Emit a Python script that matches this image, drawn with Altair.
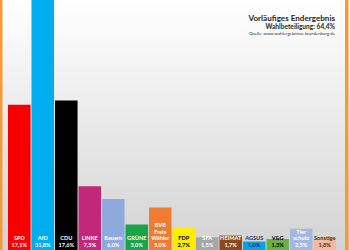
import altair as alt
import pandas as pd

# --- data ---
parties = ["SPD", "AfD", "CDU", "LINKE", "Bauern", "GRÜNE", "BVB\nFreie\nWähler",
           "FDP", "SFA", "HEIMAT", "AGSUS", "V&G", "Tier\nschutz", "Sonstige"]
values = [17.1, 31.8, 17.6, 7.5, 6.0, 3.0, 5.0, 2.7, 1.5, 1.7, 1.0, 1.3, 2.5, 1.3]
value_labels = ["17,1%", "31,8%", "17,6%", "7,5%", "6,0%", "3,0%", "5,0%",
                "2,7%", "1,5%", "1,7%", "1,0%", "1,3%", "2,5%", "1,8%"]
title_text = "Vorläufiges Endergebnis"
turnout_text = "Wahlbeteiligung:  64,4%"
source_text = "Quelle: www.wahlergebnisse.brandenburg.de"

# --- styles ---
bar_colors = ["#F80000", "#00AEEF", "#000000", "#C2287A", "#8EA9DB", "#19A449",
              "#F07C32", "#FFEC00", "#A6A6A6", "#8A4A1E", "#0AA2E2", "#6DAF47",
              "#A4B7E0", "#F5B8A2"]
text_colors = ["#FFFFFF", "#FFFFFF", "#FFFFFF", "#FFFFFF", "#FFFFFF", "#FFFFFF",
               "#FFFFFF", "#000000", "#FFFFFF", "#FFFFFF", "#1F2E5A", "#000000",
               "#FFFFFF", "#5A1E10"]

W, H = 350, 250
keys = [f"k{i:02d}" for i in range(len(parties))]
df = pd.DataFrame({
    "key": keys,
    "value": values,
    "name": parties,
    "vlabel": value_labels,
    "tc": text_colors,
})
one = pd.DataFrame({"a": [0]})

xscale = alt.Scale(domain=keys, range=[8, 336], paddingInner=0.04, paddingOuter=0)
yscale = alt.Scale(domain=[0, 29.45], range=[H, 0])

bg = alt.Chart(one).mark_rect(
    color=alt.Gradient(gradient="linear",
                       stops=[alt.GradientStop(color="#FFFFFF", offset=0),
                              alt.GradientStop(color="#D3D3D3", offset=1)],
                       x1=0, x2=0, y1=0, y2=1)
).encode(x=alt.value(0), x2=alt.value(W), y=alt.value(0), y2=alt.value(H))

left_strip = alt.Chart(one).mark_rect(color="#F29B38").encode(
    x=alt.value(0), x2=alt.value(2.5), y=alt.value(0), y2=alt.value(H))
right_strip = alt.Chart(one).mark_rect(color="#F29B38").encode(
    x=alt.value(345), x2=alt.value(348.5), y=alt.value(0), y2=alt.value(H))

bars = alt.Chart(df).mark_bar(clip=True).encode(
    x=alt.X("key:N", sort=None, axis=None, scale=xscale),
    y=alt.Y("value:Q", axis=None, scale=yscale),
    color=alt.Color("key:N", scale=alt.Scale(domain=keys, range=bar_colors), legend=None),
)

value_text = alt.Chart(df).mark_text(
    baseline="middle", fontSize=5.6, fontWeight="bold", font="Lato"
).encode(
    x=alt.X("key:N", sort=None, axis=None, scale=xscale, bandPosition=0.5),
    y=alt.value(244.5),
    text="vlabel:N",
    color=alt.Color("tc:N", scale=None),
)

name_text = alt.Chart(df).transform_calculate(
    ypos="238 - (length(split(datum.name, '\\n')) - 1) * 6.4"
).mark_text(
    baseline="middle", lineBreak="\n", lineHeight=6.4, fontSize=5.6,
    fontWeight="bold", font="Lato"
).encode(
    x=alt.X("key:N", sort=None, axis=None, scale=xscale, bandPosition=0.5),
    y=alt.Y("ypos:Q", scale=None, axis=None),
    text="name:N",
    color=alt.Color("tc:N", scale=None),
)

t1 = alt.Chart(pd.DataFrame({"t": [title_text]})).mark_text(
    align="right", baseline="alphabetic", fontSize=8.1, fontWeight="bold",
    font="Lato", color="#262626").encode(x=alt.value(335), y=alt.value(20.5), text="t:N")
t2 = alt.Chart(pd.DataFrame({"t": [turnout_text]})).mark_text(
    align="right", baseline="alphabetic", fontSize=6.6, fontWeight="bold",
    font="Lato", color="#262626").encode(x=alt.value(335), y=alt.value(28.5), text="t:N")
t3 = alt.Chart(pd.DataFrame({"t": [source_text]})).mark_text(
    align="right", baseline="alphabetic", fontSize=4.35,
    font="Lato", color="#333333").encode(x=alt.value(335), y=alt.value(34.5), text="t:N")

chart = alt.layer(bg, left_strip, right_strip, bars, value_text, name_text, t1, t2, t3).properties(
    width=W, height=H, padding=0, autosize=alt.AutoSizeParams(type="none")
).configure_view(stroke=None)

chart.save("out.html", embed_options={"renderer": "svg", "actions": False})
